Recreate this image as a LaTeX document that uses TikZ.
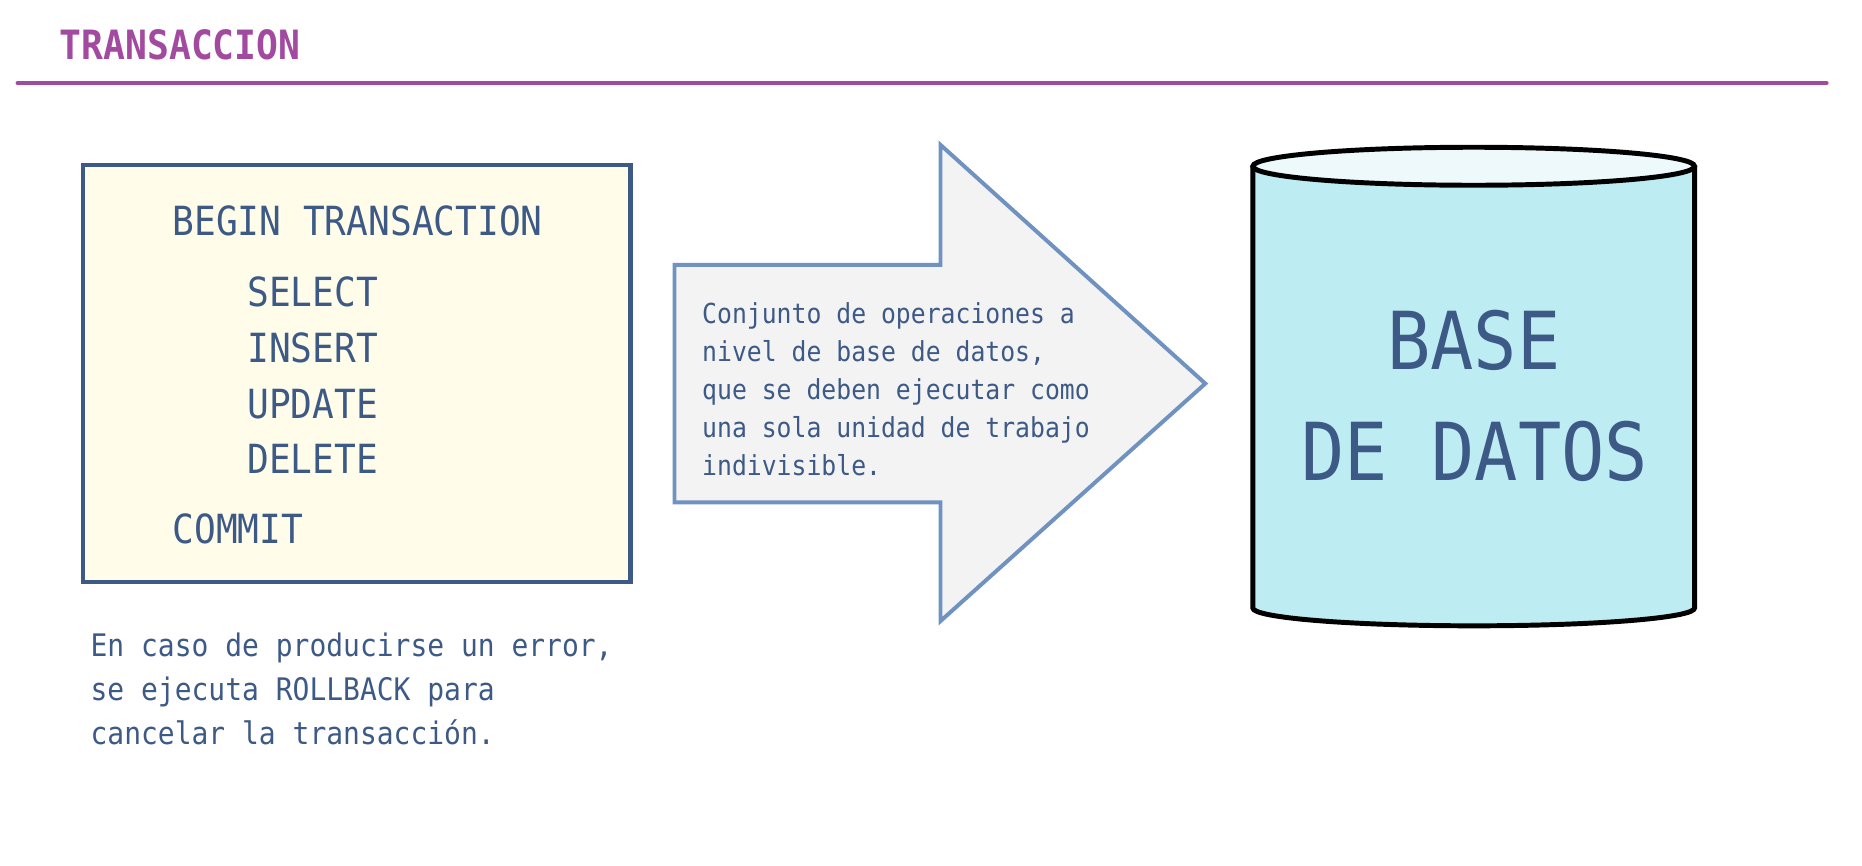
\documentclass[tikz,border=0pt]{standalone}
\usepackage{fontspec}
\usepackage{tikz}
\usetikzlibrary{positioning}
\newfontfamily\codefont[FakeStretch=0.9]{DejaVu Sans Mono}
\definecolor{titlecol}{RGB}{162,74,160}
\definecolor{inkcol}{RGB}{61,90,134}
\definecolor{notebg}{RGB}{255,253,233}
\definecolor{arrowcol}{RGB}{111,146,192}
\definecolor{arrowbg}{RGB}{243,243,243}
\definecolor{dbbody}{RGB}{189,236,242}
\definecolor{dbtop}{RGB}{237,249,251}

\begin{document}
\begin{tikzpicture}[x=0.6pt,y=-0.6pt,
   heading/.style={anchor=base west,inner sep=0pt,text=titlecol,
                   font=\codefont\bfseries\fontsize{20.4pt}{24pt}\selectfont},
   stmt/.style={anchor=base west,inner sep=0pt,text=inkcol,
                font=\codefont\fontsize{20.3pt}{24pt}\selectfont},
   desc/.style={anchor=base west,inner sep=0pt,text=inkcol,
                font=\codefont\fontsize{13.9pt}{17pt}\selectfont},
   note/.style={anchor=base west,inner sep=0pt,text=inkcol,
                font=\codefont\fontsize{15.7pt}{19pt}\selectfont},
   dbtext/.style={anchor=base,inner sep=0pt,text=inkcol,
                  font=\codefont\fontsize{40.4pt}{48pt}\selectfont},
   rule/.style={draw=titlecol,line width=2.3pt,line cap=round},
   txbox/.style={draw=inkcol,line width=2.3pt,fill=notebg},
   bigarrow/.style={draw=arrowcol,line width=2pt,fill=arrowbg},
   dbshape/.style={draw=black,line width=2.5pt}]
  \useasboundingbox (0,0) rectangle (1568,729);

  % heading
  \node[heading] (title) at (50,50) {TRANSACCION};
  \draw[rule] (15,70) -- (1538,70);

  % transaction block
  \draw[txbox] (70,139) rectangle (531,490);
  \node[stmt] (begin) at (145,198) {BEGIN TRANSACTION};
  \foreach \cmd [count=\i] in {SELECT,INSERT,UPDATE,DELETE}
    \node[stmt] (op\i) at (208,{258+47*(\i-1)}) {\cmd};
  \node[stmt] (commit) at (145,458) {COMMIT};

  \foreach \ln [count=\i] in {{En caso de producirse un error,},
      se ejecuta ROLLBACK para,cancelar la transacción.}
    \node[note] (note\i) at (76,{553+37*(\i-1)}) {\ln};

  % arrow
  \draw[bigarrow] (568,223) -- (792,223) -- (792,122) -- (1015,323)
        -- (792,523) -- (792,423) -- (568,423) -- cycle;
  \foreach \ln [count=\i] in {Conjunto de operaciones a,
      {nivel de base de datos,},que se deben ejecutar como,
      una sola unidad de trabajo,indivisible.}
    \node[desc] (desc\i) at (591,{272+32*(\i-1)}) {\ln};

  % database
  \draw[dbshape,fill=dbbody] (1055,140) -- (1055,512)
        arc[start angle=180,end angle=0,x radius=186,y radius=15]
        -- (1427,140);
  \draw[dbshape,fill=dbtop] (1241,140) ellipse [x radius=186,y radius=16];
  \node[dbtext] (db1) at (1241,311) {BASE};
  \node[dbtext] (db2) at (1242,405) {DE DATOS};
\end{tikzpicture}
\end{document}
